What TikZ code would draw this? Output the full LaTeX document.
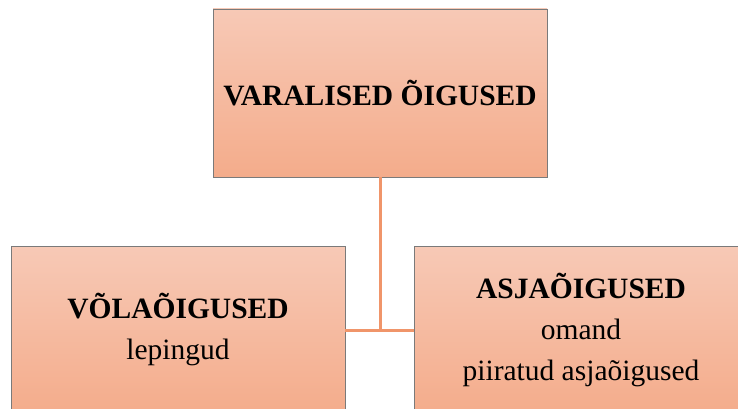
\documentclass[tikz,border=0pt]{standalone}
\usepackage{fontspec}
\setmainfont{Liberation Serif}
\usepackage{tikz}
\definecolor{boxtop}{HTML}{F7C9B6}
\definecolor{boxbottom}{HTML}{F4AC8B}
\definecolor{boxline}{HTML}{7A7A7A}
\definecolor{linkline}{HTML}{F0956A}
\tikzstyle{salmonbox}=[rectangle,draw=boxline,line width=0.9pt,
                       top color=boxtop,bottom color=boxbottom,
                       minimum width=334pt,minimum height=168pt,
                       inner sep=0pt,align=center,
                       font=\fontsize{29.5}{41}\selectfont]
\tikzstyle{link}=[draw=linkline,line width=3pt]

\begin{document}
\begin{tikzpicture}[x=1pt,y=-1pt]
    \useasboundingbox (0,0) rectangle (738,409);
    \node (vara) at (380, 93) [salmonbox]{\textbf{VARALISED ÕIGUSED}};
    \node (vola) at (178,330) [salmonbox]{\textbf{VÕLAÕIGUSED}\\lepingud};
    \node (asja) at (581,330) [salmonbox]{\textbf{ASJAÕIGUSED}\\omand\\piiratud asjaõigused};
    \draw[link] (vola.east) -- (asja.west);
    \draw[link] (vara.south) -- (vara.south |- vola.east);
  \end{tikzpicture}
\end{document}
